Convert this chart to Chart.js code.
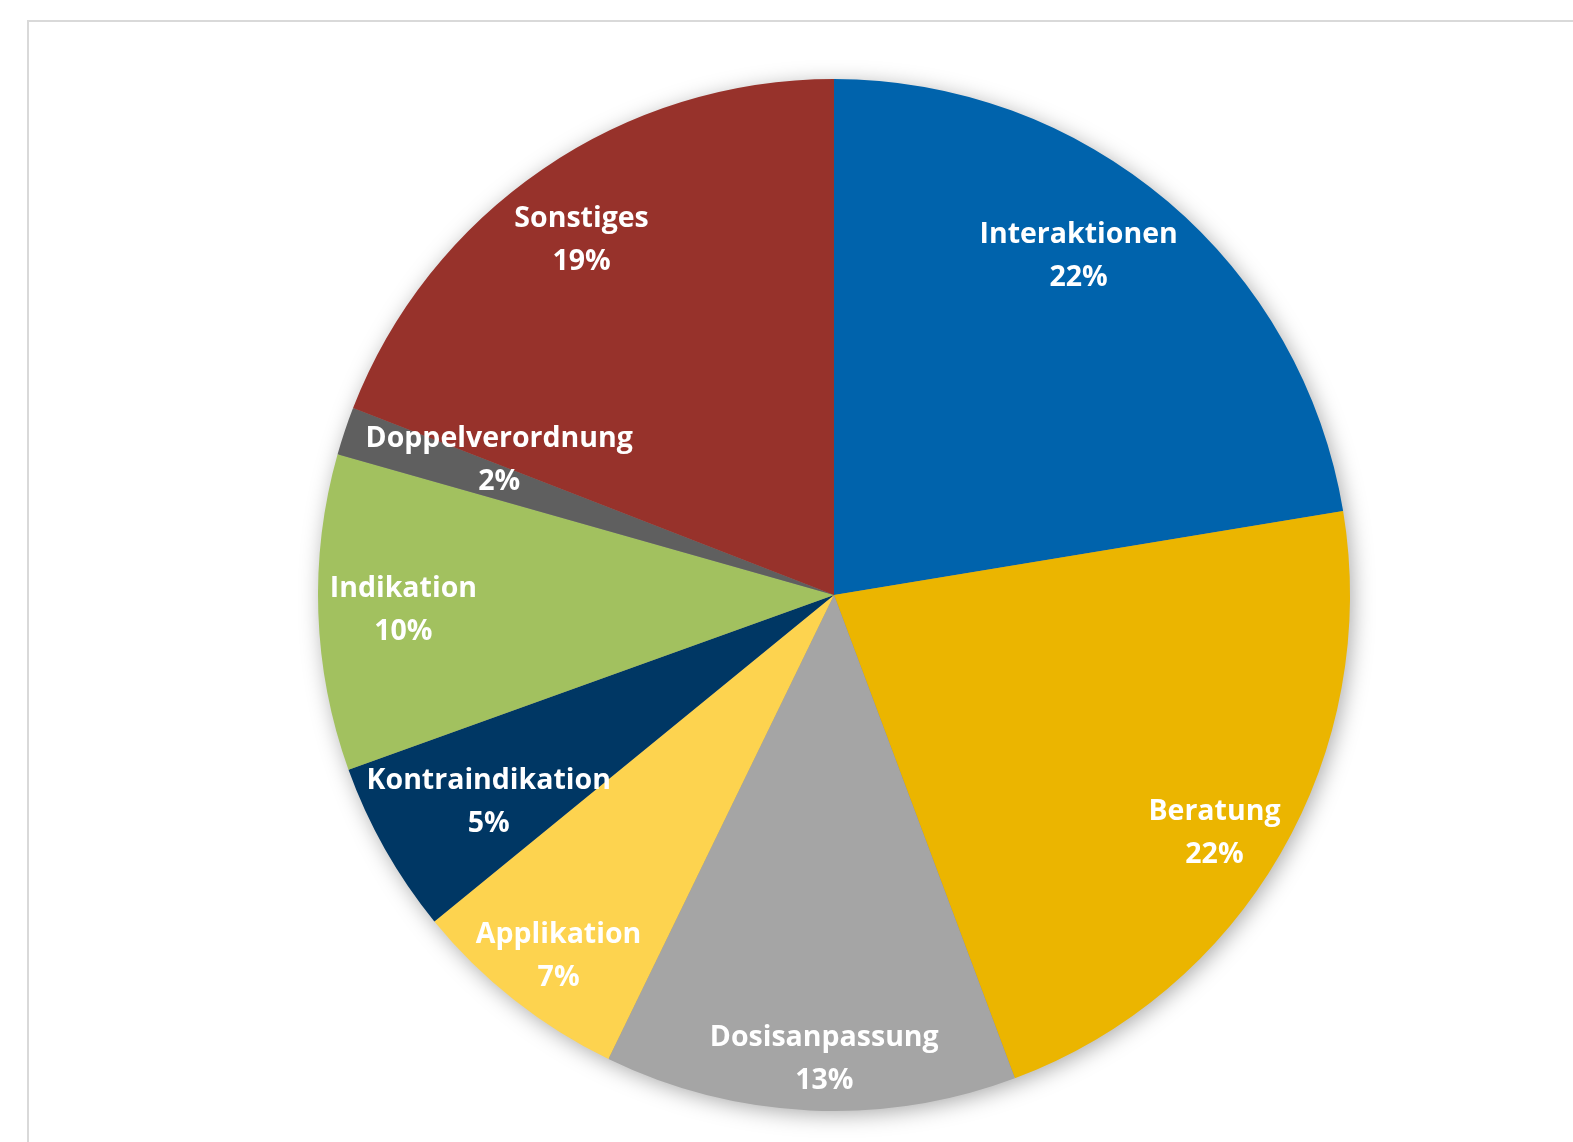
<!DOCTYPE html>
<html>
<head>
<meta charset="utf-8">
<script src="https://cdn.jsdelivr.net/npm/chart.js@4"></script>
<style>
  html, body { margin: 0; padding: 0; background: #fff; overflow: hidden; }
  #frame {
    position: absolute; left: 27px; top: 20px; width: 1700px; height: 1300px;
    border-left: 2px solid #d9d9d9; border-top: 2px solid #d9d9d9;
  }
  #chart { position: absolute; left: 0; top: 0; }
</style>
</head>
<body>
<div id="frame"></div>
<canvas id="chart" width="1573" height="1142"></canvas>
<script>
// values, clockwise from 12 o'clock
var categories = ['Interaktionen', 'Beratung', 'Dosisanpassung', 'Applikation',
  'Kontraindikation', 'Indikation', 'Doppelverordnung', 'Sonstiges']
var shares = [22.4, 21.9, 12.9, 6.9, 5.4, 9.9, 1.5, 19.1]
var sliceColors = ['#0063AC', '#EBB500', '#A5A5A5', '#FDD34F',
  '#003764', '#A2C15F', '#5F5F5F', '#97322B']

// where each label sits: angle nudge (deg) from slice middle, radius fraction
var labelSpots = [[-4.5, 0.81], [2, 0.87], [-1.5, 0.9], [-1, 0.88],
  [-1.4, 0.78], [0, 0.835], [3.5, 0.7], [-1, 0.845]]

var shadowPlugin = {
  id: 'pieShadow',
  beforeDatasetsDraw(chart) {
    let arc = chart.getDatasetMeta(0).data[0]
    if (!arc) return
    let ctx = chart.ctx
    ctx.save()
    ctx.shadowColor = 'rgba(0,0,0,0.35)'
    ctx.shadowBlur = 22
    ctx.shadowOffsetX = 3
    ctx.shadowOffsetY = 4
    ctx.fillStyle = '#888'
    ctx.beginPath()
    ctx.arc(arc.x, arc.y, arc.outerRadius - 1, 0, Math.PI * 2)
    ctx.fill()
    ctx.restore()
  }
}

var labelPlugin = {
  id: 'sliceLabels',
  afterDatasetsDraw(chart) {
    let ctx = chart.ctx
    let meta = chart.getDatasetMeta(0)
    ctx.save()
    ctx.fillStyle = '#fff'
    ctx.font = 'bold 28.5px "Open Sans"'
    ctx.textAlign = 'center'
    ctx.textBaseline = 'middle'
    meta.data.forEach((arc, i) => {
      let spot = labelSpots[i]
      let mid = (arc.startAngle + arc.endAngle) / 2 + spot[0] * Math.PI / 180
      let r = arc.outerRadius * spot[1]
      let x = arc.x + Math.cos(mid) * r
      let y = arc.y + Math.sin(mid) * r
      ctx.fillText(categories[i], x, y - 21)
      ctx.fillText(Math.round(shares[i]) + '%', x, y + 22)
    })
    ctx.restore()
  }
}

new Chart(document.getElementById('chart'), {
  type: 'pie',
  data: {
    labels: categories,
    datasets: [{
      data: shares,
      backgroundColor: sliceColors,
      borderWidth: 0
    }]
  },
  options: {
    responsive: false,
    animation: false,
    layout: { padding: { left: 318, right: 223, top: 79, bottom: 31 } },
    plugins: {
      legend: { display: false },
      tooltip: { enabled: false }
    }
  },
  plugins: [shadowPlugin, labelPlugin]
})
</script>
</body>
</html>
